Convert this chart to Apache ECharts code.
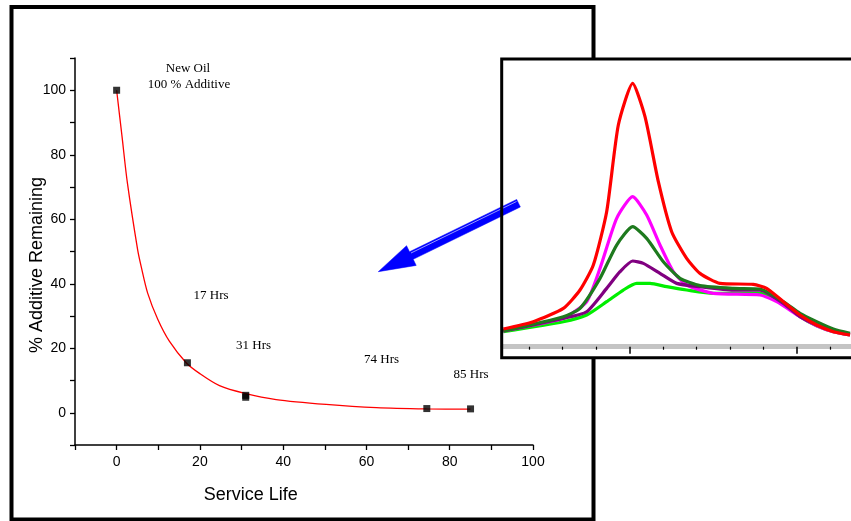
<!DOCTYPE html>
<html>
<head>
<meta charset="utf-8">
<script src="https://cdn.jsdelivr.net/npm/echarts@6/dist/echarts.min.js"></script>
<style>
html,body{margin:0;padding:0;background:#fff;}
#chart{width:851px;height:521px;}
</style>
</head>
<body>
<div id="chart"></div>
<script>
// ---- Main chart data ----
var serviceHours = [0, 17, 31, 31, 74.5, 85];
var additivePct = [100, 15.5, 5.4, 4.8, 1.3, 1.2];
var sampleLabels = ['17 Hrs', '31 Hrs', '74 Hrs', '85 Hrs'];
// fitted decay curve
var fitX = [0, 1.3, 2.6, 5.05, 5.9, 7.45, 9.9, 12.7, 16.7, 19.9, 24.7, 30.8, 38.3, 50.3, 62.4, 74.4, 85];
var fitY = [100, 85.6, 71.1, 50.5, 45.3, 37.1, 28.9, 22.1, 15.5, 12.2, 8.4, 6.0, 4.1, 2.6, 1.6, 1.2, 1.1];
var xTickLabels = [0, 20, 40, 60, 80, 100];
var yTickLabels = [0, 20, 40, 60, 80, 100];

// ---- Inset spectra data ----
var redX = [0.1, 1.0, 1.9, 2.4, 2.8, 3.2, 3.55, 3.98, 4.35, 4.75, 5.15, 5.6, 6.0, 6.6, 7.6, 8.0, 8.5, 9.0, 9.5, 10.0, 10.5];
var redY = [5.3, 7.5, 11.5, 17, 24.5, 40.5, 66.5, 79, 69, 49.5, 34.5, 26.5, 22, 19, 18.7, 17.5, 13.5, 9.5, 6.5, 4.5, 3.5];
var magentaX = [0.1, 1.0, 1.9, 2.6, 3.0, 3.5, 3.98, 4.4, 4.8, 5.2, 5.6, 6.4, 7.8, 8.3, 9.0, 9.5, 10.0, 10.5];
var magentaY = [4.7, 6.5, 8.5, 13.5, 23.5, 38.5, 45, 39.5, 30.5, 22.5, 18.5, 16, 15.5, 13.5, 9, 6.3, 4.5, 3.5];
var darkGreenX = [0.1, 1.9, 2.4, 3.0, 3.5, 3.98, 4.4, 4.9, 5.4, 6.0, 7.0, 7.8, 8.5, 9.0, 9.5, 10.0, 10.5];
var darkGreenY = [4.7, 9, 11.5, 20.5, 30.5, 36, 32.5, 25.5, 20.5, 18.3, 17.5, 17.3, 13.5, 10, 7.5, 5.3, 4];
var purpleX = [0.1, 1.9, 2.6, 3.2, 3.6, 3.98, 4.3, 4.8, 5.3, 6.0, 7.0, 7.8, 8.5, 9.0, 9.5, 10.0, 10.5];
var purpleY = [4.7, 8.5, 10.5, 17.5, 22.5, 25.7, 25, 22, 19, 18, 17, 17, 13, 9, 6.5, 4.7, 3.7];
var limeX = [0.1, 1.9, 2.6, 3.2, 3.7, 4.1, 4.5, 5.0, 5.6, 6.4, 7.8, 8.5, 9.0, 9.5, 10.0, 10.5];
var limeY = [4.5, 7.5, 9.5, 13.5, 17, 19, 19, 18, 17, 16, 16, 13, 9, 6.3, 4.5, 3.5];
var insetMinorTicks = [0.88, 1.88, 2.88, 4.9, 5.9, 6.9, 7.9, 9.92];
var insetMajorTicks = [3.88, 8.9];

function zip(xs, ys) { return xs.map(function (x, i) { return [x, ys[i]]; }); }

var chart = echarts.init(document.getElementById('chart'), null, { renderer: 'canvas' });

var serif = 'Liberation Serif';
var sans = 'Liberation Sans';

// arrow geometry (decoration)
var T = [518.5, 203.2], P = [378.3, 271.7];
var dx = P[0] - T[0], dy = P[1] - T[1], L = Math.sqrt(dx * dx + dy * dy);
var u = [dx / L, dy / L];
var n = [-u[1], u[0]];
var B = [P[0] - 36.8 * u[0], P[1] - 36.8 * u[1]];
var w = 4.2, h = 11;
function pt(base, k) { return [base[0] + k * n[0], base[1] + k * n[1]]; }
var arrowPts = [pt(T, -w), pt(B, -w), pt(B, -h), P, pt(B, h), pt(B, w), pt(T, w)];

var insetMin = 0.09, insetMax = 10.53;

var option = {
  animation: false,
  backgroundColor: '#fff',
  grid: [
    { left: 75, top: 58, width: 458, height: 387 },
    { left: 503, top: 60, right: 0, height: 286.7 }
  ],
  xAxis: [
    {
      gridIndex: 0, type: 'value', min: -10, max: 100, interval: 10,
      axisLine: { onZero: false, lineStyle: { color: '#000', width: 1.5 } },
      axisTick: { length: 5, lineStyle: { color: '#000', width: 1.3 } },
      axisLabel: {
        margin: 10, color: '#000', fontFamily: sans, fontSize: 14,
        formatter: function (v) { return xTickLabels.indexOf(v) >= 0 ? String(v) : ''; }
      },
      splitLine: { show: false }
    },
    {
      gridIndex: 1, type: 'value', min: insetMin, max: insetMax, z: 3,
      axisLine: { onZero: false, lineStyle: { color: '#c4c4c4', width: 5 } },
      axisTick: { customValues: insetMinorTicks, length: 3, lineStyle: { color: '#000', width: 1.2 } },
      axisLabel: { show: false },
      splitLine: { show: false }
    },
    {
      gridIndex: 1, type: 'value', min: insetMin, max: insetMax, z: 3, position: 'bottom', offset: 0,
      axisLine: { show: false },
      axisTick: { customValues: insetMajorTicks, length: 7, lineStyle: { color: '#000', width: 1.5 } },
      axisLabel: { show: false },
      splitLine: { show: false }
    }
  ],
  yAxis: [
    {
      gridIndex: 0, type: 'value', min: -10, max: 110, interval: 10,
      axisLine: { show: true, onZero: false, lineStyle: { color: '#000', width: 1.5 } },
      axisTick: { show: true, length: 5, lineStyle: { color: '#000', width: 1.3 } },
      axisLabel: {
        margin: 9, color: '#000', fontFamily: sans, fontSize: 14,
        formatter: function (v) { return yTickLabels.indexOf(v) >= 0 ? String(v) : ''; }
      },
      splitLine: { show: false }
    },
    {
      gridIndex: 1, type: 'value', min: 0, max: 86, show: false
    }
  ],
  series: [
    {
      type: 'line', xAxisIndex: 0, yAxisIndex: 0, data: zip(fitX, fitY),
      smooth: 0.3, showSymbol: false,
      lineStyle: { color: '#ff0000', width: 1.3 }, z: 2
    },
    {
      type: 'scatter', xAxisIndex: 0, yAxisIndex: 0, data: zip(serviceHours, additivePct),
      symbol: 'rect', symbolSize: 7, itemStyle: { color: '#000' }, z: 3
    },
    { type: 'line', xAxisIndex: 1, yAxisIndex: 1, data: zip(limeX, limeY), smooth: 0.2, showSymbol: false, lineStyle: { color: '#00ee00', width: 3.2 }, z: 4 },
    { type: 'line', xAxisIndex: 1, yAxisIndex: 1, data: zip(magentaX, magentaY), smooth: 0.2, showSymbol: false, lineStyle: { color: '#ff00ff', width: 3.2 }, z: 4 },
    { type: 'line', xAxisIndex: 1, yAxisIndex: 1, data: zip(purpleX, purpleY), smooth: 0.2, showSymbol: false, lineStyle: { color: '#800080', width: 3.2 }, z: 4 },
    { type: 'line', xAxisIndex: 1, yAxisIndex: 1, data: zip(darkGreenX, darkGreenY), smooth: 0.2, showSymbol: false, lineStyle: { color: '#1e7a1e', width: 3.2 }, z: 4 },
    { type: 'line', xAxisIndex: 1, yAxisIndex: 1, data: zip(redX, redY), smooth: 0.2, showSymbol: false, lineStyle: { color: '#ff0000', width: 3.2 }, z: 4 }
  ],
  graphic: [
    { type: 'rect', z: 0, shape: { x: 11.5, y: 7, width: 582, height: 512.5 }, style: { fill: null, stroke: '#000', lineWidth: 4 } },
    { type: 'rect', z: 1, shape: { x: 501.7, y: 59, width: 400, height: 298.7 }, style: { fill: '#fff', stroke: null } },
    { type: 'polygon', z: 5, shape: { points: arrowPts }, style: { fill: '#0000ff', stroke: '#0000ff', lineWidth: 0.5 } },
    { type: 'line', z: 5, shape: { x1: 516.5, y1: 201.5, x2: 411, y2: 253 }, style: { stroke: 'rgba(255,255,255,0.75)', lineWidth: 0.8 } },
    { type: 'rect', z: 6, shape: { x: 501.7, y: 59, width: 400, height: 298.7 }, style: { fill: null, stroke: '#000', lineWidth: 3 } },
    { type: 'text', z: 7, x: 188, y: 69, style: { text: 'New Oil', font: '13px "' + serif + '"', fill: '#000', align: 'center', verticalAlign: 'middle' } },
    { type: 'text', z: 7, x: 189, y: 84.5, style: { text: '100 % Additive', font: '13px "' + serif + '"', fill: '#000', align: 'center', verticalAlign: 'middle' } },
    { type: 'text', z: 7, x: 193.5, y: 296, style: { text: sampleLabels[0], font: '13px "' + serif + '"', fill: '#000', align: 'left', verticalAlign: 'middle' } },
    { type: 'text', z: 7, x: 236, y: 346, style: { text: sampleLabels[1], font: '13px "' + serif + '"', fill: '#000', align: 'left', verticalAlign: 'middle' } },
    { type: 'text', z: 7, x: 364, y: 360, style: { text: sampleLabels[2], font: '13px "' + serif + '"', fill: '#000', align: 'left', verticalAlign: 'middle' } },
    { type: 'text', z: 7, x: 453.5, y: 375, style: { text: sampleLabels[3], font: '13px "' + serif + '"', fill: '#000', align: 'left', verticalAlign: 'middle' } },
    { type: 'text', z: 7, x: 250.7, y: 495, style: { text: 'Service Life', font: '18px "' + sans + '"', fill: '#000', align: 'center', verticalAlign: 'middle' } },
    { type: 'text', z: 7, x: 37, y: 265, rotation: Math.PI / 2, style: { text: '% Additive Remaining', font: '18px "' + sans + '"', fill: '#000', align: 'center', verticalAlign: 'middle' } }
  ]
};
chart.setOption(option);
</script>
</body>
</html>
